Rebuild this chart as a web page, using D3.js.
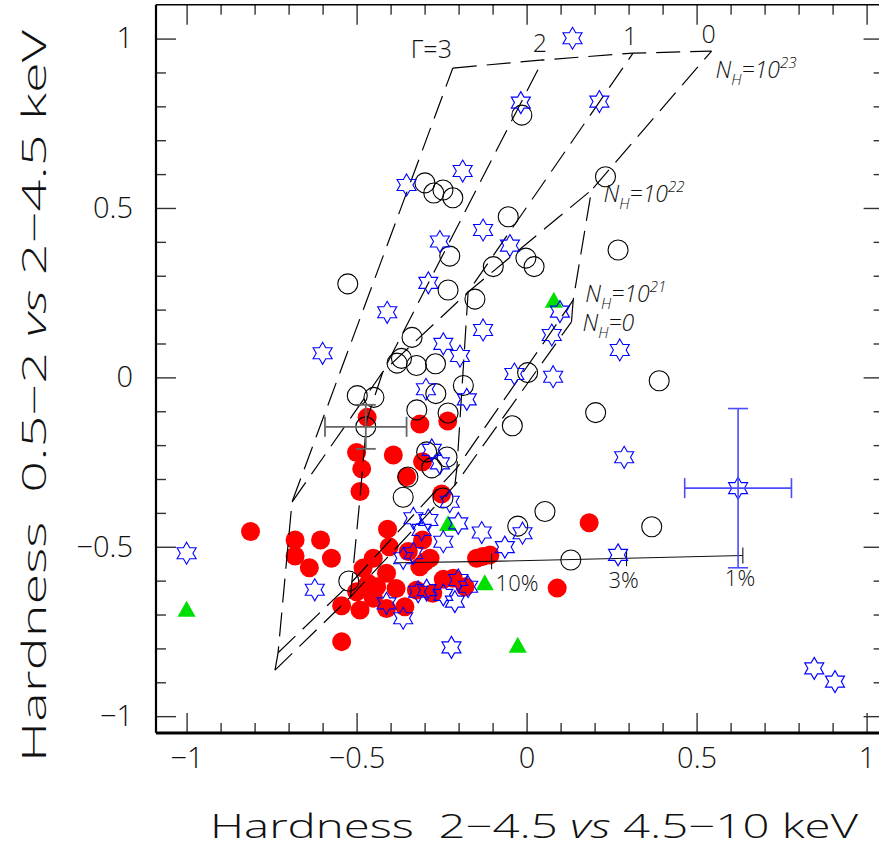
<!DOCTYPE html>
<html>
<head>
<meta charset="utf-8">
<script src="https://cdn.jsdelivr.net/npm/d3@7"></script>
<style>
  html, body { margin: 0; padding: 0; background: #fff; }
  svg { display: block; }
  text { font-family: "Open Sans", "Liberation Sans", sans-serif; font-weight: 300; fill: #111; }
</style>
</head>
<body>
<svg id="chart" width="879" height="848"></svg>
<script>
// ---- observed hardness ratios (HR2: 2-4.5 vs 4.5-10 keV, HR1: 0.5-2 vs 2-4.5 keV) ----
const openCircleHR2 = [-0.014,-0.299,-0.273,-0.246,-0.217,0.232,-0.054,-0.526,-0.226,-0.098,-0.002,0.022,0.269,-0.231,-0.152,-0.337,-0.368,-0.381,-0.324,-0.268,0.003,0.390,-0.498,-0.449,-0.186,-0.267,-0.323,-0.231,0.203,-0.042,-0.473,-0.294,-0.279,-0.234,-0.349,-0.363,-0.246,0.054,-0.026,0.368,0.130,-0.523];
const openCircleHR1 = [0.774,0.574,0.544,0.553,0.530,0.592,0.474,0.276,0.358,0.327,0.352,0.327,0.376,0.258,0.231,0.118,0.056,0.042,0.035,0.040,0.014,-0.010,-0.054,-0.059,-0.024,-0.048,-0.096,-0.105,-0.104,-0.143,-0.146,-0.220,-0.267,-0.235,-0.294,-0.354,-0.356,-0.396,-0.439,-0.441,-0.539,-0.601];

const filledCircleHR2 = [-0.812,-0.681,-0.606,-0.681,-0.574,-0.639,-0.544,-0.544,-0.469,-0.500,-0.485,-0.490,-0.392,-0.314,-0.232,-0.353,-0.306,-0.250,-0.409,-0.404,-0.451,-0.348,-0.306,-0.284,-0.314,-0.245,-0.384,-0.466,-0.481,-0.500,-0.490,-0.412,-0.358,-0.451,-0.412,-0.324,-0.276,-0.216,-0.181,-0.147,-0.108,-0.129,0.184,0.090,-0.441,-0.299];
const filledCircleHR1 = [-0.455,-0.480,-0.480,-0.527,-0.534,-0.562,-0.674,-0.780,-0.118,-0.222,-0.270,-0.337,-0.229,-0.138,-0.129,-0.293,-0.249,-0.344,-0.448,-0.500,-0.534,-0.514,-0.480,-0.534,-0.559,-0.596,-0.623,-0.608,-0.563,-0.633,-0.687,-0.682,-0.677,-0.652,-0.578,-0.628,-0.637,-0.593,-0.618,-0.534,-0.524,-0.529,-0.429,-0.622,-0.618,-0.544];

const starHR2 = [0.135,-0.017,0.214,-0.188,-0.353,-0.128,-0.049,-0.255,-0.289,-0.410,-0.600,-0.245,-0.128,-0.196,0.098,0.074,0.274,-0.036,0.078,-0.296,-0.176,-0.279,-0.255,0.287,-0.226,-0.333,-0.289,-0.309,-0.201,-0.132,-0.012,-0.064,-0.245,0.269,-1.000,-0.623,-0.412,-0.363,-0.363,-0.333,-0.319,-0.294,-0.245,-0.211,-0.172,-0.201,-0.221,0.846,0.907,0.622];
const starHR1 = [1.001,0.811,0.814,0.609,0.568,0.435,0.389,0.401,0.279,0.192,0.071,0.099,0.140,0.063,0.194,0.125,0.081,0.010,0.002,-0.035,-0.065,-0.214,-0.254,-0.236,-0.367,-0.416,-0.421,-0.450,-0.431,-0.458,-0.460,-0.501,-0.485,-0.524,-0.519,-0.627,-0.667,-0.711,-0.534,-0.519,-0.633,-0.628,-0.642,-0.662,-0.618,-0.598,-0.797,-0.859,-0.898,-0.327];

const triangleHR2 = [-1.000,0.080,-0.231,-0.123,-0.026];
const triangleHR1 = [-0.689,0.223,-0.436,-0.611,-0.795];

// typical uncertainties: [HR2, HR1, errHR2, errHR1]
const openCircleTypicalError = [-0.473, -0.146, 0.12, 0.065];
const starTypicalError = [0.622, -0.327, 0.157, 0.235];

// ---- absorbed power-law model grid: tracks of constant photon index ----
// each point: [HR2, HR1, N_H tag]  (tag marks the N_H nodes used for the iso-N_H lines)
const gammaValues = ["3", "2", "1", "0"];
const nhTags = ["0", "21", "22", "23"];
const gamma3Track = [[-0.740,-0.864,"0"],[-0.731,-0.813,"21"],[-0.690,-0.368,"22"],[-0.217,0.913,"23"]];
const gamma2Track = [[-0.518,-0.648,"0"],[-0.514,-0.604,"21"],[-0.490,-0.356,null],[-0.470,-0.126,null],[-0.423,0.016,"22"],[0.048,0.937,"23"]];
const gamma1Track = [[-0.211,-0.318,"0"],[-0.205,-0.267,"21"],[-0.172,0.252,"22"],[0.313,0.957,"23"]];
const gamma0Track = [[0.132,0.164,"0"],[0.137,0.228,"21"],[0.191,0.553,"22"],[0.544,0.963,"23"]];

// dilution track for a scattered component (fraction of scattered flux)
const scatterHR2 = [-0.387,-0.103,0.294,0.636];
const scatterHR1 = [-0.547,-0.543,-0.534,-0.526];
const scatterLabels = ["", "10%", "3%", "1%"];

// axis tick values
const majorTicks = [-1, -0.5, 0, 0.5, 1];
const minorTicks = d3.range(-10, 11).map(d => d / 10).filter(d => !majorTicks.includes(d));

// ---- layout ----
const svg = d3.select("#chart");
const plot = { left: 156, right: 883.6, top: 4.7, bottom: 733.1 };
const x = d3.scaleLinear().domain([-1.09, 1.05]).range([plot.left, plot.right]);
const y = d3.scaleLinear().domain([-1.05, 1.1]).range([plot.bottom, plot.top]);

const fmt = d3.format("~g");

// ---- axes (ticks point inwards on all four sides) ----
function styleAxis(g) {
  g.select(".domain").remove();
  g.selectAll(".tick line").attr("stroke", "#333").attr("stroke-width", 1.4);
  g.selectAll(".tick text").attr("font-size", 29).attr("fill", "#111")
    .attr("font-family", "'Open Sans', 'Liberation Sans', sans-serif").attr("font-weight", 300);
}
svg.append("g").attr("transform", `translate(0,${plot.bottom})`)
  .call(d3.axisBottom(x).tickValues(majorTicks).tickSize(-20).tickPadding(14).tickFormat(fmt)).call(styleAxis);
svg.append("g").attr("transform", `translate(0,${plot.bottom})`)
  .call(d3.axisBottom(x).tickValues(minorTicks).tickSize(-10).tickFormat("")).call(styleAxis);
svg.append("g").attr("transform", `translate(0,${plot.top})`)
  .call(d3.axisTop(x).tickValues(majorTicks).tickSize(-20).tickFormat("")).call(styleAxis);
svg.append("g").attr("transform", `translate(0,${plot.top})`)
  .call(d3.axisTop(x).tickValues(minorTicks).tickSize(-10).tickFormat("")).call(styleAxis);
svg.append("g").attr("transform", `translate(${plot.left},0)`)
  .call(d3.axisLeft(y).tickValues(majorTicks).tickSize(-20).tickPadding(23).tickFormat(fmt)).call(styleAxis);
svg.append("g").attr("transform", `translate(${plot.left},0)`)
  .call(d3.axisLeft(y).tickValues(minorTicks).tickSize(-10).tickFormat("")).call(styleAxis);
svg.append("g").attr("transform", `translate(${plot.right},0)`)
  .call(d3.axisRight(y).tickValues(majorTicks).tickSize(-20).tickFormat("")).call(styleAxis);
svg.append("g").attr("transform", `translate(${plot.right},0)`)
  .call(d3.axisRight(y).tickValues(minorTicks).tickSize(-10).tickFormat("")).call(styleAxis);

// frame
const frame = svg.append("g").attr("stroke", "#000").attr("fill", "none");
frame.append("line").attr("x1", plot.left).attr("x2", plot.right).attr("y1", plot.bottom).attr("y2", plot.bottom).attr("stroke-width", 3);
frame.append("line").attr("x1", plot.left).attr("x2", plot.right).attr("y1", plot.top).attr("y2", plot.top).attr("stroke-width", 1.6);
frame.append("line").attr("x1", plot.left).attr("x2", plot.left).attr("y1", plot.top).attr("y2", plot.bottom).attr("stroke-width", 2.2);
frame.append("line").attr("x1", plot.right).attr("x2", plot.right).attr("y1", plot.top).attr("y2", plot.bottom).attr("stroke-width", 2.2);

// axis titles (wide lettering)
const xTitle = svg.append("text").attr("x", 534).attr("y", 838).attr("text-anchor", "middle")
  .attr("font-size", 33).attr("textLength", 648).attr("lengthAdjust", "spacingAndGlyphs")
  .style("white-space", "pre");
xTitle.append("tspan").text("Hardness  2\u22124.5 ");
xTitle.append("tspan").attr("font-style", "italic").text("vs");
xTitle.append("tspan").text(" 4.5\u221210 keV");

const yTitle = svg.append("text").attr("transform", "translate(46,396) rotate(-90)").attr("text-anchor", "middle")
  .attr("font-size", 33).attr("textLength", 732).attr("lengthAdjust", "spacingAndGlyphs")
  .style("white-space", "pre");
yTitle.append("tspan").text("Hardness  0.5\u22122 ");
yTitle.append("tspan").attr("font-style", "italic").text("vs");
yTitle.append("tspan").text(" 2\u22124.5 keV");

// ---- data layers ----
const pts = (xs, ys) => xs.map((v, i) => [v, ys[i]]);

// filled red circles
svg.append("g").selectAll("circle").data(pts(filledCircleHR2, filledCircleHR1)).join("circle")
  .attr("cx", d => x(d[0])).attr("cy", d => y(d[1])).attr("r", 9.5).attr("fill", "#ff0000");

// open black circles
svg.append("g").selectAll("circle").data(pts(openCircleHR2, openCircleHR1)).join("circle")
  .attr("cx", d => x(d[0])).attr("cy", d => y(d[1])).attr("r", 10)
  .attr("fill", "none").attr("stroke", "#000").attr("stroke-width", 1.1);

// model grid
const tracks = [gamma3Track, gamma2Track, gamma1Track, gamma0Track];
const line = d3.line().x(d => x(d[0])).y(d => y(d[1]));
const grid = svg.append("g").attr("fill", "none").attr("stroke", "#000").attr("stroke-width", 1.2)
  .attr("stroke-dasharray", "24,10");
grid.selectAll("path.gamma").data(tracks).join("path").attr("class", "gamma").attr("d", line);
const nhLines = nhTags.map(tag => tracks.map(t => t.find(p => p[2] === tag)));
grid.selectAll("path.nh").data(nhLines).join("path").attr("class", "nh").attr("d", line);

// scattered-fraction track
const scat = pts(scatterHR2, scatterHR1);
svg.append("path").attr("d", line(scat)).attr("fill", "none").attr("stroke", "#111").attr("stroke-width", 1.1);
const scatG = svg.append("g");
scat.forEach((d, i) => {
  if (!scatterLabels[i]) return;
  scatG.append("line").attr("x1", x(d[0])).attr("x2", x(d[0])).attr("y1", y(d[1]) - 8).attr("y2", y(d[1]) + 8)
    .attr("stroke", "#111").attr("stroke-width", 1.1);
  scatG.append("text").attr("x", x(d[0]) + (i === 1 ? 4 : -18)).attr("y", y(d[1]) + 30)
    .attr("font-size", 22).text(scatterLabels[i]);
});

// green triangles
const tri = (cx, cy) => `M${cx},${cy - 10}L${cx + 9},${cy + 6}L${cx - 9},${cy + 6}Z`;
svg.append("g").selectAll("path").data(pts(triangleHR2, triangleHR1)).join("path")
  .attr("d", d => tri(x(d[0]), y(d[1]))).attr("fill", "#00e000");

// blue six-pointed stars
function hexagram(cx, cy, R) {
  const r = R / Math.sqrt(3);
  const p = d3.range(12).map(k => {
    const a = -Math.PI / 2 + k * Math.PI / 6;
    const rad = k % 2 === 0 ? R : r;
    return [cx + rad * Math.cos(a), cy + rad * Math.sin(a)];
  });
  return "M" + p.map(q => q.join(",")).join("L") + "Z";
}
svg.append("g").selectAll("path").data(pts(starHR2, starHR1)).join("path")
  .attr("d", d => hexagram(x(d[0]), y(d[1]), 11)).attr("fill", "none")
  .attr("stroke", "#0000ff").attr("stroke-width", 1.1);

// typical error bars
function errorBar(e, color, width) {
  const g = svg.append("g").attr("stroke", color).attr("stroke-width", width).attr("fill", "none");
  const cx = x(e[0]), cy = y(e[1]);
  const x0 = x(e[0] - e[2]), x1 = x(e[0] + e[2]);
  const y0 = y(e[1] - e[3]), y1 = y(e[1] + e[3]);
  g.append("line").attr("x1", x0).attr("x2", x1).attr("y1", cy).attr("y2", cy);
  g.append("line").attr("x1", cx).attr("x2", cx).attr("y1", y0).attr("y2", y1);
  [x0, x1].forEach(v => g.append("line").attr("x1", v).attr("x2", v).attr("y1", cy - 10).attr("y2", cy + 10));
  [y0, y1].forEach(v => g.append("line").attr("x1", cx - 10).attr("x2", cx + 10).attr("y1", v).attr("y2", v));
}
errorBar(openCircleTypicalError, "#666", 1.8);
errorBar(starTypicalError, "#4a4aff", 1.6);

// grid annotations
const ann = svg.append("g");
const gTop = tracks.map(t => t[t.length - 1]);
ann.append("text").attr("x", x(gTop[0][0]) - 42).attr("y", y(gTop[0][1]) - 10).attr("font-size", 25)
  .text("\u0393=" + gammaValues[0]);
gTop.slice(1).forEach((p, i) => {
  ann.append("text").attr("x", x(p[0]) - 3).attr("y", y(p[1]) - 8).attr("text-anchor", "middle")
    .attr("font-size", 25).text(gammaValues[i + 1]);
});
function nhLabel(px, py, exp) {
  const t = ann.append("text").attr("x", px).attr("y", py).attr("font-size", 23).attr("font-style", "italic");
  t.append("tspan").text("N");
  t.append("tspan").attr("font-size", 15).attr("dy", 7).text("H");
  t.append("tspan").attr("dy", -7).text(exp === null ? "=0" : "=10");
  if (exp !== null) t.append("tspan").attr("font-size", 15).attr("dy", -10).text(exp);
}
nhLabel(x(gamma0Track[3][0]) + 4, y(gamma0Track[3][1]) + 27, "23");
nhLabel(x(gamma0Track[2][0]) + 12, y(gamma0Track[2][1]) + 12, "22");
nhLabel(x(gamma0Track[1][0]) + 12, y(gamma0Track[1][1]) + 2, "21");
nhLabel(x(gamma0Track[0][0]) + 11, y(gamma0Track[0][1]) + 9, null);
</script>
</body>
</html>
